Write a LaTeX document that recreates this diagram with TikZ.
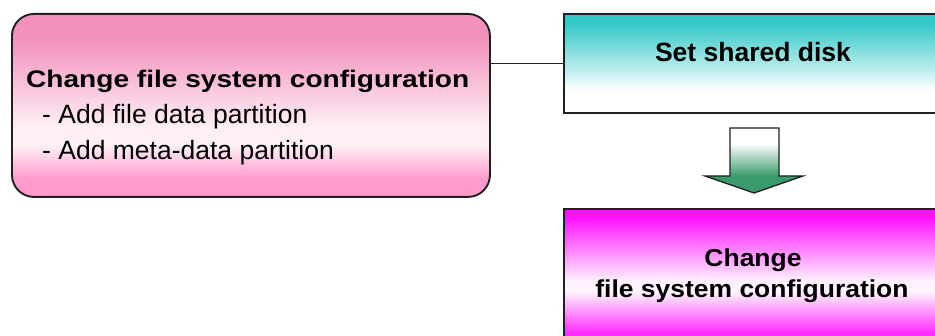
\documentclass[tikz,border=0pt]{standalone}
\usepackage{fontspec}
\setmainfont{Liberation Sans}
\definecolor{pkT}{HTML}{F292BC}
\definecolor{pkM}{HTML}{FFF0F6}
\definecolor{pkB}{HTML}{FF9ACB}
\definecolor{tlT}{HTML}{33C8C8}
\definecolor{tlB}{HTML}{FFFFFF}
\definecolor{mgT}{HTML}{FF10FF}
\definecolor{mgM}{HTML}{FFF2FF}
\definecolor{mgB}{HTML}{FF30FF}
\definecolor{grA}{HTML}{3A9A6C}
\definecolor{edge}{HTML}{202020}
\pgfdeclareverticalshading{pinksh}{100bp}{color(0bp)=(pkB); color(30bp)=(pkB); color(39bp)=(pkM); color(44bp)=(pkM); color(68bp)=(pkT); color(100bp)=(pkT)}
\pgfdeclareverticalshading{tealsh}{100bp}{color(0bp)=(tlB); color(36bp)=(tlB); color(70bp)=(tlT); color(100bp)=(tlT)}
\pgfdeclareverticalshading{magsh}{100bp}{color(0bp)=(mgB); color(29bp)=(mgB); color(44bp)=(mgM); color(48bp)=(mgM); color(72bp)=(mgT); color(100bp)=(mgT)}
\pgfdeclareverticalshading{arrsh}{100bp}{color(0bp)=(grA); color(38bp)=(grA); color(63bp)=(white); color(100bp)=(white)}
\begin{document}
\begin{tikzpicture}[x=1pt,y=-1pt,
  boxbase/.style={draw=edge, line width=1.6pt, shade, anchor=north west, inner sep=0pt},
  pinkbox/.style={boxbase, shading=pinksh, rounded corners=22pt, line width=1.9pt},
  tealbox/.style={boxbase, shading=tealsh},
  magbox/.style={boxbase, shading=magsh},
  titletext/.style={font=\bfseries\fontsize{24}{28}\selectfont, inner sep=0pt, anchor=base west},
  itemtext/.style={font=\fontsize{26.5}{30}\selectfont, inner sep=0pt, anchor=base west},
  disktext/.style={font=\bfseries\fontsize{26.5}{30}\selectfont, inner sep=0pt, anchor=base},
  magtext/.style={font=\bfseries\fontsize{24.5}{28}\selectfont, inner sep=0pt, anchor=base},
  link/.style={draw=edge, line width=1.4pt}
]
\useasboundingbox (0,0) rectangle (935,336);
\fill[white] (0,0) rectangle (935,336);
\clip (0,0) rectangle (935,336);
% boxes
\node[pinkbox, minimum width=478pt, minimum height=183pt] (cfg) at (11,13) {};
\node[tealbox, minimum width=380pt, minimum height=99pt] (disk) at (563,13) {};
\node[magbox, minimum width=380pt, minimum height=134pt] (chg) at (563,208) {};
% connector
\draw[link] (disk.west) -- (disk.west -| cfg.east);
% block arrow
\shade[shading=arrsh, draw=edge, line width=1.3pt, line join=miter]
  (730,128) -- (779,128) -- (779,176) -- (803,176) -- (754,193) -- (705,176) -- (730,176) -- cycle;
% texts
\node[titletext] (t1) at (26,88) {\scalebox{1.17}[1]{Change file system configuration}};
\node[itemtext] (i1) at (42,124) {- Add file data partition};
\node[itemtext] (i2) at (42,160) {- Add meta-data partition};
\node[disktext] (d1) at (753,62) {Set shared disk};
\node[magtext] (m1) at (753,267) {\scalebox{1.08}[1]{Change}};
\node[magtext] (m2) at (752,298) {\scalebox{1.08}[1]{file system configuration}};
\end{tikzpicture}
\end{document}
